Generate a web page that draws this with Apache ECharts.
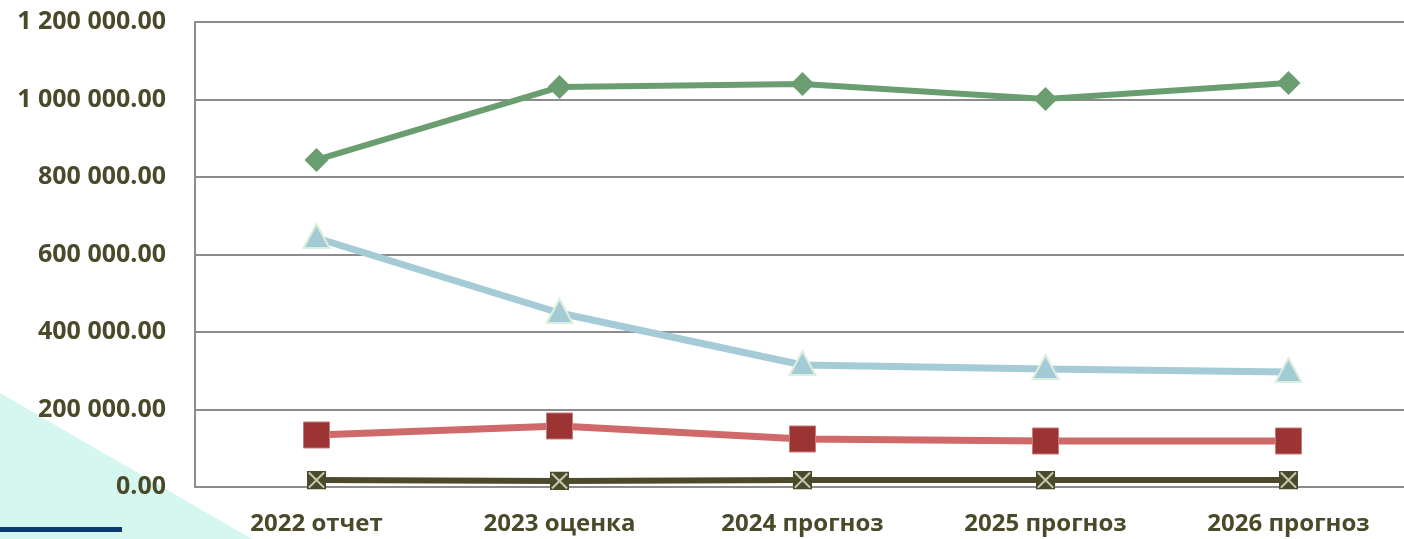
<!DOCTYPE html>
<html>
<head>
<meta charset="utf-8">
<script src="https://cdn.jsdelivr.net/npm/echarts@6/dist/echarts.min.js"></script>
<style>
  html, body { margin: 0; padding: 0; background: #fff; overflow: hidden; }
  #grafico { width: 1410px; height: 539px; }
</style>
</head>
<body>
<div id="grafico"></div>
<script>
// data
let categorias = ['2022 отчет', '2023 оценка', '2024 прогноз', '2025 прогноз', '2026 прогноз'];
let serieVerde = [843900, 1032000, 1040000, 1001000, 1042600];
let serieAzul = [642600, 449000, 314800, 304500, 296800];
let serieRoja = [134200, 157400, 123900, 118700, 118700];
let serieOscura = [18000, 15500, 18000, 18000, 18000];

let textColor = '#4a4a2b';

function formatoNum(v) {
    let s = v.toFixed(2);
    let partes = s.split('.');
    let ent = partes[0].replace(/\B(?=(\d{3})+(?!\d))/g, ' ');
    return ent + '.' + partes[1];
}

let svgX = 'data:image/svg+xml;utf8,' + encodeURIComponent(
    '<svg xmlns="http://www.w3.org/2000/svg" width="20" height="20" viewBox="0 0 20 20">' +
    '<rect x="0" y="0" width="20" height="20" fill="#4b4b2b"/>' +
    '<path d="M2 2 L18 18 M18 2 L2 18" stroke="#c8c8b0" stroke-width="2.2"/>' +
    '</svg>');

var grafico = document.getElementById('grafico');
var myChart = echarts.init(grafico);
var options = {
    animation: false,
    backgroundColor: '#ffffff',
    graphic: [
        {
            type: 'polygon',
            z: -10,
            shape: { points: [[0, 393], [252, 539], [0, 539]] },
            style: { fill: '#d6f7f0' }
        },
        {
            type: 'rect',
            z: -9,
            shape: { x: 0, y: 527, width: 122, height: 5 },
            style: { fill: '#0b3a73' }
        }
    ],
    grid: { left: 195, top: 22, right: 0, bottom: 52, containLabel: false },
    xAxis: {
        type: 'category',
        data: categorias,
        boundaryGap: true,
        axisLine: { show: true, lineStyle: { color: '#8c8c8c', width: 2 } },
        axisTick: { show: false },
        axisLabel: {
            color: textColor,
            fontFamily: 'Open Sans',
            fontWeight: 'bold',
            fontSize: 24,
            margin: 25
        }
    },
    yAxis: {
        type: 'value',
        min: 0,
        max: 1200000,
        interval: 200000,
        axisLine: { show: true, lineStyle: { color: '#8c8c8c', width: 2 } },
        axisTick: { show: false },
        splitLine: { show: true, lineStyle: { color: '#8c8c8c', width: 2 } },
        axisLabel: {
            color: textColor,
            fontFamily: 'Open Sans',
            fontWeight: 'bold',
            fontSize: 25,
            margin: 29,
            formatter: formatoNum
        }
    },
    series: [
        {
            type: 'line',
            data: serieOscura,
            symbol: 'image://' + svgX,
            symbolSize: 19,
            lineStyle: { color: '#4b4b2b', width: 6 },
            itemStyle: { color: '#4b4b2b' },
            z: 2
        },
        {
            type: 'line',
            data: serieRoja,
            symbol: 'rect',
            symbolSize: 26,
            lineStyle: { color: '#d06a6a', width: 7 },
            itemStyle: { color: '#9c3434', borderColor: '#c87a7a', borderWidth: 1 },
            z: 3
        },
        {
            type: 'line',
            data: serieAzul,
            symbol: 'triangle',
            symbolSize: [26, 24],
            symbolOffset: [0, -2],
            lineStyle: { color: '#a5cbd6', width: 7 },
            itemStyle: { color: '#a3cbd6', borderColor: '#dcefdc', borderWidth: 2 },
            z: 4
        },
        {
            type: 'line',
            data: serieVerde,
            symbol: 'diamond',
            symbolSize: 24,
            lineStyle: { color: '#6a9e70', width: 6 },
            itemStyle: { color: '#6a9e70' },
            z: 5
        }
    ]
};
myChart.setOption(options);
</script>
</body>
</html>
